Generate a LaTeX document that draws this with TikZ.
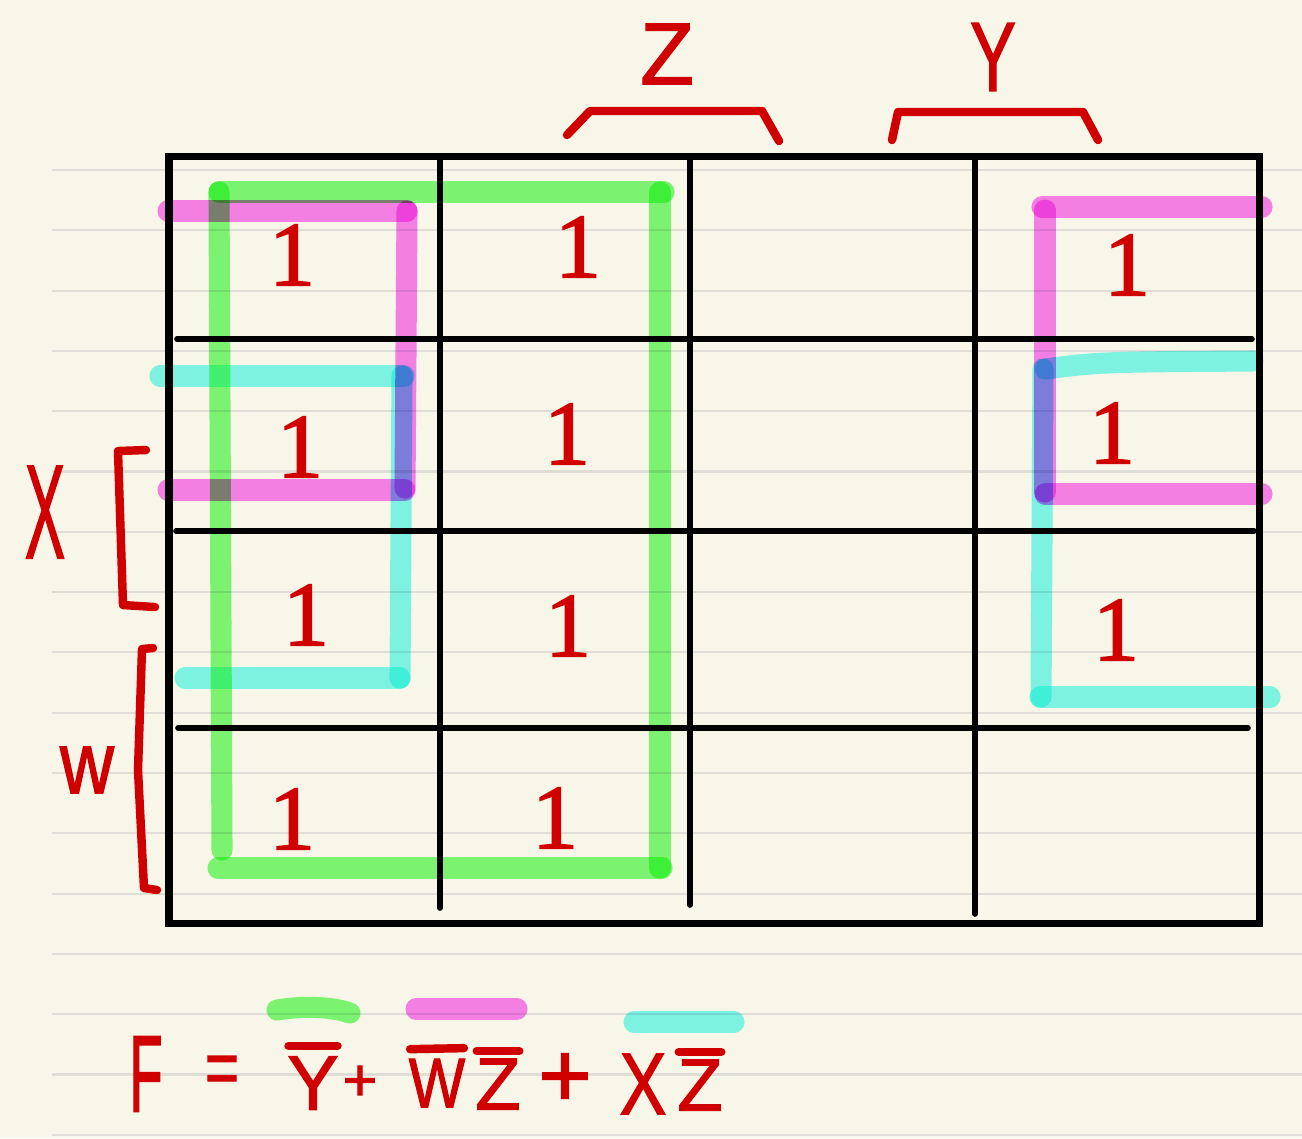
\documentclass[tikz,border=0pt]{standalone}
\usepackage{fontspec}
\setmainfont{Liberation Sans}[FakeBold=1.6]
\newfontfamily\digitfamily{Liberation Serif}[FakeBold=2]
\usetikzlibrary{calc}
\definecolor{paperColor}{RGB}{248,245,233}
\definecolor{ruleColor}{RGB}{222,221,214}
\definecolor{inkColor}{RGB}{208,0,0}
\definecolor{greenHl}{RGB}{122,252,118}
\definecolor{pinkHl}{RGB}{250,126,248}
\definecolor{cyanHl}{RGB}{124,252,246}
\newcommand{\onefont}{\digitfamily\fontsize{26}{28}\selectfont}
\newcommand{\mapfont}{\fontsize{25}{27}\selectfont}
\newcommand{\eqfont}{\fontsize{22}{24}\selectfont}
\newcommand{\squeeze}[2]{\scalebox{#1}[1]{#2}}

\begin{document}
\begin{tikzpicture}[x=0.1mm, y=-0.1mm,
    rule/.style={ruleColor, line width=0.6pt},
    frame/.style={line width=2pt},
    grid/.style={line width=1.6pt, line cap=round},
    hl/.style={line width=6pt, line cap=round, opacity=0.95, blend mode=multiply},
    ink/.style={inkColor, line width=2.4pt, line cap=round, line join=round},
    one/.style={inkColor, font=\onefont, inner sep=0pt},
    lbl/.style={inkColor, font=\mapfont, inner sep=0pt},
    eq/.style={inkColor, font=\eqfont, inner sep=0pt}
  ]
  \fill[paperColor] (0,0) rectangle (1302,1138);
  \useasboundingbox (0,0) rectangle (1302,1138);

  % notebook lines
  \foreach \k in {0,...,16}
    \draw[rule] (52,{170+60.3*\k}) -- (1302,{170+60.3*\k});

  % the map
  \draw[frame] (169,156) rectangle (1259,923);
  \draw[grid] (440,158) -- (440,908);
  \draw[grid] (690,158) -- (690,905);
  \draw[grid] (975,158) -- (975,914);
  \draw[grid] (177,339) -- (1252,339);
  \draw[grid] (176,531) -- (1254,531);
  \draw[grid] (178,728) -- (1248,728);

  % ones
  \node[one] (c11) at (292,255) {1};
  \node[one] (c12) at (578,247) {1};
  \node[one] (c14) at (1127,265) {1};
  \node[one] (c21) at (300,447) {1};
  \node[one] (c22) at (567,434) {1};
  \node[one] (c24) at (1112,433) {1};
  \node[one] (c31) at (306,615) {1};
  \node[one] (c32) at (568,626) {1};
  \node[one] (c34) at (1116,630) {1};
  \node[one] (c41) at (292,819) {1};
  \node[one] (c42) at (555,818) {1};

  % groups
  \draw[hl, greenHl] (219,192) -- (664,192);
  \draw[hl, greenHl] (219,192) -- (222,850);
  \draw[hl, greenHl] (218,868) -- (662,868);
  \draw[hl, greenHl] (660,192) -- (660,868);
  \draw[hl, pinkHl] (168,211) -- (407,211);
  \draw[hl, pinkHl] (407,211) -- (405,488);
  \draw[hl, pinkHl] (168,490) -- (405,490);
  \draw[hl, cyanHl] (160,376) -- (404,376);
  \draw[hl, cyanHl] (402,376) -- (400,678);
  \draw[hl, cyanHl] (185,678) -- (400,678);
  \draw[hl, pinkHl] (1042,207) -- (1262,207);
  \draw[hl, pinkHl] (1045,210) -- (1045,492);
  \draw[hl, pinkHl] (1045,494) -- (1262,494);
  \draw[hl, cyanHl] (1045,369) .. controls (1100,362) .. (1253,361);
  \draw[hl, cyanHl] (1043,369) -- (1041,697);
  \draw[hl, cyanHl] (1040,697) -- (1270,697);

  % variable labels
  \node[lbl] (zlbl) at (667,54) {Z};
  \node[lbl, font=\fontsize{28}{30}\selectfont] (ylbl) at (993,57) {\squeeze{0.7}{Y}};
  \node[lbl, font=\fontsize{38}{40}\selectfont] (xlbl) at (45,512) {\squeeze{0.45}{X}};
  \node[lbl] (wlbl) at (87,770) {\squeeze{0.85}{w}};
  \draw[ink] (567,135) -- (590,111) -- (762,111) -- (779,141);
  \draw[ink] (892,140) -- (898,112) -- (1083,112) -- (1098,140);
  \draw[ink] (146,450) -- (118,451) -- (123,605) -- (155,607);
  \draw[ink] (153,648) -- (142,649) -- (138,770) -- (144,888) -- (157,890);

  % result
  \node[eq, font=\fontsize{31}{33}\selectfont] (ff) at (146,1074) {\squeeze{0.5}{F}};
  \node[eq] (feq) at (222,1075) {\squeeze{0.75}{=}};
  \node[eq] (fy) at (313,1083) {Y};
  \node[eq, font=\fontsize{17}{19}\selectfont] (fp1) at (360,1083) {+};
  \node[eq, font=\fontsize{20}{22}\selectfont] (fw) at (437,1083) {\squeeze{0.85}{W}};
  \node[eq, font=\fontsize{21}{23}\selectfont] (fz1) at (498,1084) {Z};
  \node[eq, font=\fontsize{26}{28}\selectfont] (fp2) at (565,1080) {+};
  \node[eq, font=\fontsize{25}{27}\selectfont] (fx) at (643,1084) {\squeeze{0.8}{X}};
  \node[eq, font=\fontsize{21}{23}\selectfont] (fz2) at (700,1085) {Z};
  \draw[ink] ($(fy.north west)+(2,-10)$) -- ($(fy.north east)+(-2,-10)$);
  \draw[ink] ($(fw.north west)+(2,-9)$) -- ($(fw.north east)+(-2,-10)$);
  \draw[ink] ($(fz1.north west)+(2,-7)$) -- ($(fz1.north east)+(-2,-7)$);
  \draw[ink] ($(fz2.north west)+(2,-7)$) -- ($(fz2.north east)+(-2,-7)$);
  \draw[hl, greenHl] (277,1010) .. controls (300,1006) and (330,1006) .. (350,1013);
  \draw[hl, pinkHl] (416,1009) -- (517,1009);
  \draw[hl, cyanHl] (634,1022) -- (734,1022);
\end{tikzpicture}
\end{document}
